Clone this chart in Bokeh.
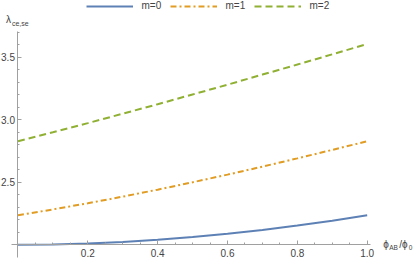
from bokeh.plotting import figure
from bokeh.models import (Range1d, FixedTicker, Legend, LegendItem, Label,
                          PrintfTickFormatter)
from bokeh.embed import file_html
from bokeh.resources import INLINE

# data
phi = [0.0, 0.1, 0.2, 0.3, 0.4, 0.5, 0.6, 0.7, 0.8, 0.9, 1.0]
lam_m0 = [2.000, 2.003, 2.010, 2.022, 2.040, 2.062, 2.088, 2.119, 2.154, 2.193, 2.236]
lam_m1 = [2.236, 2.283, 2.332, 2.385, 2.441, 2.500, 2.561, 2.625, 2.691, 2.759, 2.828]
lam_m2 = [2.828, 2.900, 2.973, 3.048, 3.124, 3.202, 3.280, 3.361, 3.441, 3.523, 3.606]
series_labels = ["m=0", "m=1", "m=2"]
x_major = [0.2, 0.4, 0.6, 0.8, 1.0]
x_minor = [0.05, 0.1, 0.15, 0.25, 0.3, 0.35, 0.45, 0.5, 0.55, 0.65, 0.7, 0.75, 0.85, 0.9, 0.95]
y_major = [2.5, 3.0, 3.5]
y_minor = [2.1, 2.2, 2.3, 2.4, 2.6, 2.7, 2.8, 2.9, 3.1, 3.2, 3.3, 3.4, 3.6, 3.7]

FONT = "Liberation Sans"
AX = "#a0a0a0"
TXT = "#444444"

p = figure(width=415, height=258, output_backend="svg", toolbar_location=None,
           x_range=Range1d(-0.04996, 1.1383), y_range=Range1d(1.8905, 3.9533),
           min_border=0)
p.outline_line_color = None
p.xgrid.visible = False
p.ygrid.visible = False
p.background_fill_color = "white"
p.border_fill_color = "white"

for ax in (p.xaxis[0], p.yaxis[0]):
    ax.axis_line_color = AX
    ax.major_tick_line_color = AX
    ax.minor_tick_line_color = AX
    ax.major_tick_in = 4
    ax.major_tick_out = 0
    ax.minor_tick_in = 2
    ax.minor_tick_out = 0
    ax.major_label_text_font = FONT
    ax.major_label_text_font_size = "10px"
    ax.major_label_text_color = TXT
    ax.formatter = PrintfTickFormatter(format="%.1f")
p.xaxis[0].major_label_standoff = 4
p.yaxis[0].major_label_standoff = 3

p.xaxis[0].ticker = FixedTicker(ticks=x_major, minor_ticks=x_minor)
p.yaxis[0].ticker = FixedTicker(ticks=y_major, minor_ticks=y_minor)
p.xaxis[0].fixed_location = 2.0
p.yaxis[0].fixed_location = 0.0
p.xaxis[0].bounds = (-0.018, 1.0093)
p.yaxis[0].bounds = (1.9, 3.705)

r0 = p.line(phi, lam_m0, line_color="#5E81B5", line_width=2)
r1 = p.line(phi, lam_m1, line_color="#E19C24", line_width=2, line_dash="6 3 2 3")
r2 = p.line(phi, lam_m2, line_color="#8FB032", line_width=2, line_dash="7 4")

legend = Legend(items=[LegendItem(label=series_labels[0], renderers=[r0]),
                       LegendItem(label=series_labels[1], renderers=[r1]),
                       LegendItem(label=series_labels[2], renderers=[r2])],
                orientation="horizontal", location="top_center",
                glyph_width=47, glyph_height=10, label_standoff=9, spacing=8,
                label_text_font=FONT, label_text_font_size="10px",
                label_text_color=TXT, border_line_color=None,
                background_fill_alpha=0, padding=0, margin=0)
p.add_layout(legend)

# y axis label (lambda with subscript)
p.add_layout(Label(x=0.0, y=3.69, x_offset=-12, y_offset=8, text="λ",
                   text_font=FONT, text_font_size="10px", text_color=TXT,
                   text_baseline="bottom"))
p.add_layout(Label(x=0.0, y=3.69, x_offset=-6, y_offset=6, text="ce,se",
                   text_font=FONT, text_font_size="7px", text_color=TXT,
                   text_baseline="bottom"))
# x axis label
p.add_layout(Label(x=1.0, y=2.0, x_offset=16, y_offset=0, text="ϕ",
                   text_font=FONT, text_font_size="10px", text_color=TXT,
                   text_baseline="middle"))
p.add_layout(Label(x=1.0, y=2.0, x_offset=22, y_offset=-3, text="AB",
                   text_font=FONT, text_font_size="6.5px", text_color=TXT,
                   text_baseline="middle"))
p.add_layout(Label(x=1.0, y=2.0, x_offset=32, y_offset=0, text="/ϕ",
                   text_font=FONT, text_font_size="10px", text_color=TXT,
                   text_baseline="middle"))
p.add_layout(Label(x=1.0, y=2.0, x_offset=41.5, y_offset=-3, text="0",
                   text_font=FONT, text_font_size="6.5px", text_color=TXT,
                   text_baseline="middle"))

open("out.html", "w").write(file_html(p, INLINE))
